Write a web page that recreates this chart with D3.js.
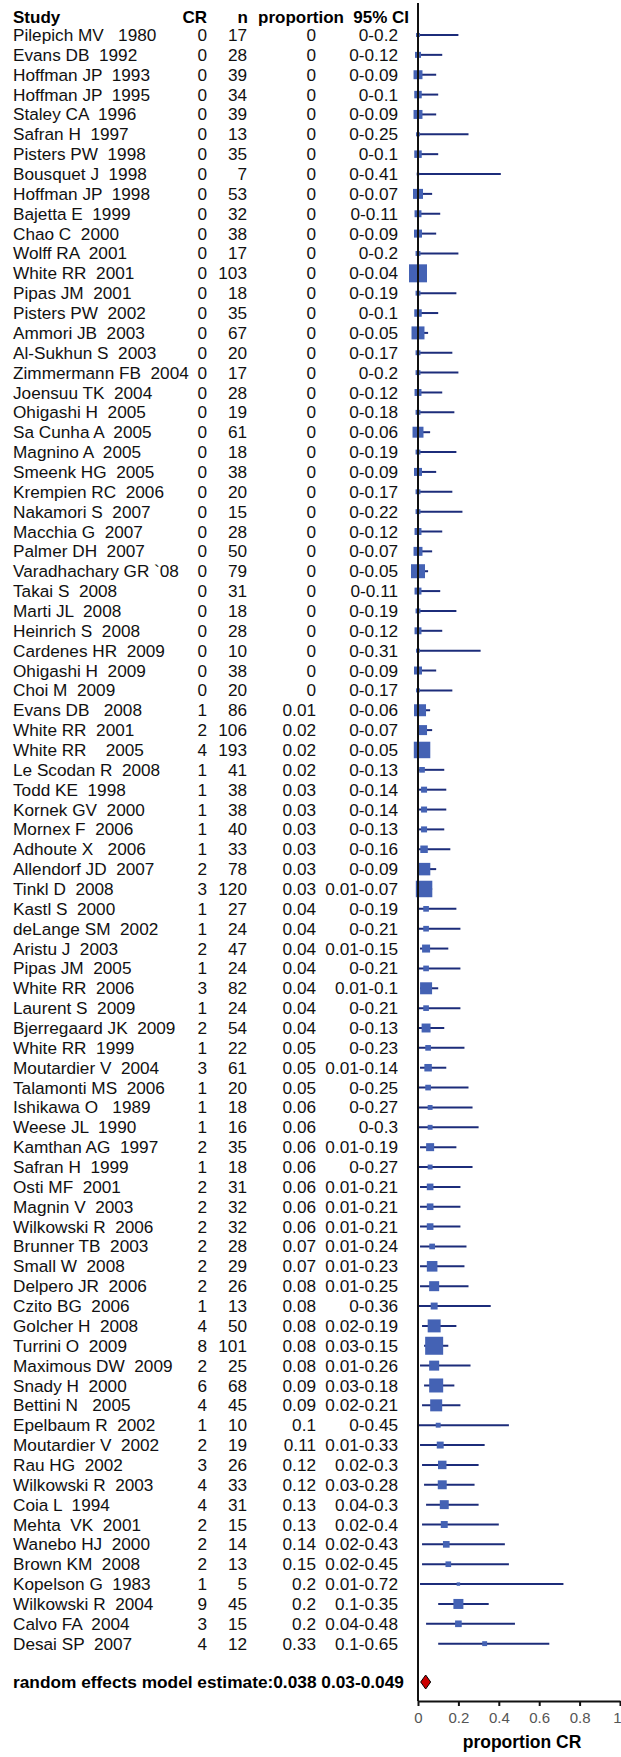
<!DOCTYPE html>
<html>
<head>
<meta charset="utf-8">
<script src="https://cdn.jsdelivr.net/npm/d3@7"></script>
<style>
  body { margin: 0; background: #fff; }
  svg text { font-family: "Liberation Sans", Arial, sans-serif; white-space: pre; }
</style>
</head>
<body>
<svg id="chart"></svg>
<script>
// study rows, top to bottom
var studies = [
  "Pilepich MV   1980", "Evans DB  1992", "Hoffman JP  1993", "Hoffman JP  1995", "Staley CA  1996",
  "Safran H  1997", "Pisters PW  1998", "Bousquet J  1998", "Hoffman JP  1998", "Bajetta E  1999",
  "Chao C  2000", "Wolff RA  2001", "White RR  2001", "Pipas JM  2001", "Pisters PW  2002",
  "Ammori JB  2003", "Al-Sukhun S  2003", "Zimmermann FB  2004", "Joensuu TK  2004", "Ohigashi H  2005",
  "Sa Cunha A  2005", "Magnino A  2005", "Smeenk HG  2005", "Krempien RC  2006", "Nakamori S  2007",
  "Macchia G  2007", "Palmer DH  2007", "Varadhachary GR `08", "Takai S  2008", "Marti JL  2008",
  "Heinrich S  2008", "Cardenes HR  2009", "Ohigashi H  2009", "Choi M  2009", "Evans DB   2008",
  "White RR  2001", "White RR    2005", "Le Scodan R  2008", "Todd KE  1998", "Kornek GV  2000",
  "Mornex F  2006", "Adhoute X   2006", "Allendorf JD  2007", "Tinkl D  2008", "Kastl S  2000",
  "deLange SM  2002", "Aristu J  2003", "Pipas JM  2005", "White RR  2006", "Laurent S  2009",
  "Bjerregaard JK  2009", "White RR  1999", "Moutardier V  2004", "Talamonti MS  2006", "Ishikawa O   1989",
  "Weese JL  1990", "Kamthan AG  1997", "Safran H  1999", "Osti MF  2001", "Magnin V  2003",
  "Wilkowski R  2006", "Brunner TB  2003", "Small W  2008", "Delpero JR  2006", "Czito BG  2006",
  "Golcher H  2008", "Turrini O  2009", "Maximous DW  2009", "Snady H  2000", "Bettini N   2005",
  "Epelbaum R  2002", "Moutardier V  2002", "Rau HG  2002", "Wilkowski R  2003", "Coia L  1994",
  "Mehta  VK  2001", "Wanebo HJ  2000", "Brown KM  2008", "Kopelson G  1983", "Wilkowski R  2004",
  "Calvo FA  2004", "Desai SP  2007"
];

var cr = [
  0,0,0,0,0, 0,0,0,0,0, 0,0,0,0,0, 0,0,0,0,0, 0,0,0,0,0, 0,0,0,0,0, 0,0,0,0,1,
  2,4,1,1,1, 1,1,2,3,1, 1,2,1,3,1, 2,1,3,1,1, 1,2,1,2,2, 2,2,2,2,1, 4,8,2,6,4,
  1,2,3,4,4, 2,2,2,1,9, 3,4
];

var n = [
  17,28,39,34,39, 13,35,7,53,32, 38,17,103,18,35, 67,20,17,28,19, 61,18,38,20,15, 28,50,79,31,18, 28,10,38,20,86,
  106,193,41,38,38, 40,33,78,120,27, 24,47,24,82,24, 54,22,61,20,18, 16,35,18,31,32, 32,28,29,26,13, 50,101,25,68,45,
  10,19,26,33,31, 15,14,13,5,45, 15,12
];

var proportion = [
  0,0,0,0,0, 0,0,0,0,0, 0,0,0,0,0, 0,0,0,0,0, 0,0,0,0,0, 0,0,0,0,0, 0,0,0,0,0.01,
  0.02,0.02,0.02,0.03,0.03, 0.03,0.03,0.03,0.03,0.04, 0.04,0.04,0.04,0.04,0.04, 0.04,0.05,0.05,0.05,0.06,
  0.06,0.06,0.06,0.06,0.06, 0.06,0.07,0.07,0.08,0.08, 0.08,0.08,0.08,0.09,0.09,
  0.1,0.11,0.12,0.12,0.13, 0.13,0.14,0.15,0.2,0.2, 0.2,0.33
];

var ciLow = [
  0,0,0,0,0, 0,0,0,0,0, 0,0,0,0,0, 0,0,0,0,0, 0,0,0,0,0, 0,0,0,0,0, 0,0,0,0,0,
  0,0,0,0,0, 0,0,0,0.01,0, 0,0.01,0,0.01,0, 0,0,0.01,0,0,
  0,0.01,0,0.01,0.01, 0.01,0.01,0.01,0.01,0, 0.02,0.03,0.01,0.03,0.02,
  0,0.01,0.02,0.03,0.04, 0.02,0.02,0.02,0.01,0.1, 0.04,0.1
];

var ciHigh = [
  0.2,0.12,0.09,0.1,0.09, 0.25,0.1,0.41,0.07,0.11, 0.09,0.2,0.04,0.19,0.1, 0.05,0.17,0.2,0.12,0.18,
  0.06,0.19,0.09,0.17,0.22, 0.12,0.07,0.05,0.11,0.19, 0.12,0.31,0.09,0.17,0.06,
  0.07,0.05,0.13,0.14,0.14, 0.13,0.16,0.09,0.07,0.19, 0.21,0.15,0.21,0.1,0.21, 0.13,0.23,0.14,0.25,0.27,
  0.3,0.19,0.27,0.21,0.21, 0.21,0.24,0.23,0.25,0.36, 0.19,0.15,0.26,0.18,0.21,
  0.45,0.33,0.3,0.28,0.3, 0.4,0.43,0.45,0.72,0.35, 0.48,0.65
];

// relative study weight
var weight = [
  4,9,20,14,20, 4,14,2,25,12, 16,6,81,6,14, 42,6,6,12,6, 30,6,16,6,6, 12,20,49,12,6, 12,4,16,4,36,
  25,68,8,9,9, 9,14,39,68,8, 8,16,8,36,8, 20,8,14,8,6,
  6,16,6,11,11, 11,8,28,25,12, 42,81,25,49,36,
  6,12,18,20,20, 12,11,8,3,25, 11,6
];

var pooled = { est: 0.038, lo: 0.03, hi: 0.049 };
var xTicks = [0, 0.2, 0.4, 0.6, 0.8, 1];

var W = 621, H = 1757;
var svg = d3.select("#chart").attr("width", W).attr("height", H);

var rowTop = 35, rowStep = 19.86;
var y = function(i) { return rowTop + i * rowStep; };
var pooledY = 1682, axisY = 1701;

var x = d3.scaleLinear().domain([0, 1]).range([418, 620]);
var size = d3.scaleSqrt().domain([0, 81]).range([0, 18]);

var fs = "17.2px";

// header
var head = svg.append("g").attr("font-weight", "bold").attr("font-size", "17px");
head.append("text").attr("x", 13).attr("y", 17).attr("dy", "0.35em").text("Study");
head.append("text").attr("x", 207).attr("y", 17).attr("dy", "0.35em").attr("text-anchor", "end").text("CR");
head.append("text").attr("x", 248).attr("y", 17).attr("dy", "0.35em").attr("text-anchor", "end").text("n");
head.append("text").attr("x", 258).attr("y", 17).attr("dy", "0.35em").text("proportion");
head.append("text").attr("x", 409).attr("y", 17).attr("dy", "0.35em").attr("text-anchor", "end").text("95% CI");

// table columns
var rows = svg.append("g").attr("font-size", fs).attr("fill", "#111")
  .selectAll("g").data(studies).join("g")
  .attr("transform", function(d, i) { return "translate(0," + y(i) + ")"; });

rows.append("text").attr("x", 13).attr("dy", "0.35em").text(function(d) { return d; });
rows.append("text").attr("x", 207).attr("dy", "0.35em").attr("text-anchor", "end")
  .text(function(d, i) { return cr[i]; });
rows.append("text").attr("x", 247).attr("dy", "0.35em").attr("text-anchor", "end")
  .text(function(d, i) { return n[i]; });
rows.append("text").attr("x", 316).attr("dy", "0.35em").attr("text-anchor", "end")
  .text(function(d, i) { return proportion[i]; });
rows.append("text").attr("x", 398).attr("dy", "0.35em").attr("text-anchor", "end")
  .text(function(d, i) { return ciLow[i] + "-" + ciHigh[i]; });

// forest marks
var plot = svg.append("g");
plot.selectAll("line.ci").data(studies).join("line").attr("class", "ci")
  .attr("x1", function(d, i) { return x(ciLow[i]); })
  .attr("x2", function(d, i) { return x(ciHigh[i]); })
  .attr("y1", function(d, i) { return y(i); })
  .attr("y2", function(d, i) { return y(i); })
  .attr("stroke", "#1c2c7a").attr("stroke-width", 2);

plot.selectAll("rect.pt").data(studies).join("rect").attr("class", "pt")
  .attr("x", function(d, i) { return x(proportion[i]) - size(weight[i]) / 2; })
  .attr("y", function(d, i) { return y(i) - size(weight[i]) / 2; })
  .attr("width", function(d, i) { return size(weight[i]); })
  .attr("height", function(d, i) { return size(weight[i]); })
  .attr("fill", "#4462b4");

// pooled estimate
svg.append("text").attr("x", 13).attr("y", pooledY).attr("dy", "0.35em")
  .attr("font-size", "17.3px").attr("font-weight", "bold")
  .text("random effects model estimate:" + pooled.est + " " + pooled.lo + "-" + pooled.hi);

var hw = Math.max(5, (x(pooled.hi) - x(pooled.lo)) / 2);
var cx = x(pooled.est);
svg.append("path")
  .attr("d", "M" + (cx - hw) + "," + pooledY + "L" + cx + "," + (pooledY - 7) +
             "L" + (cx + hw) + "," + pooledY + "L" + cx + "," + (pooledY + 7) + "Z")
  .attr("fill", "#cc0000").attr("stroke", "#000").attr("stroke-width", 1);

// vertical line at zero
svg.append("line").attr("x1", x(0)).attr("x2", x(0)).attr("y1", 3).attr("y2", axisY)
  .attr("stroke", "#111").attr("stroke-width", 2);

// x axis
var ax = svg.append("g").attr("transform", "translate(0," + axisY + ")")
  .call(d3.axisBottom(x).tickValues(xTicks).tickSize(5).tickSizeOuter(0).tickFormat(d3.format("")));
ax.select(".domain").attr("stroke", "#111").attr("stroke-width", 2);
ax.selectAll(".tick line").attr("stroke", "#111").attr("stroke-width", 2);
ax.selectAll(".tick text").attr("font-size", "15px").attr("fill", "#555")
  .attr("font-family", "Liberation Sans, Arial, sans-serif").attr("dy", "0.95em");
ax.selectAll(".tick text").filter(function(d) { return d === 1; })
  .attr("text-anchor", "end").attr("dx", "1px");

svg.append("text").attr("x", 522).attr("y", 1742).attr("dy", "0.35em")
  .attr("text-anchor", "middle").attr("font-size", "17.5px").attr("font-weight", "bold")
  .text("proportion CR");
</script>
</body>
</html>
